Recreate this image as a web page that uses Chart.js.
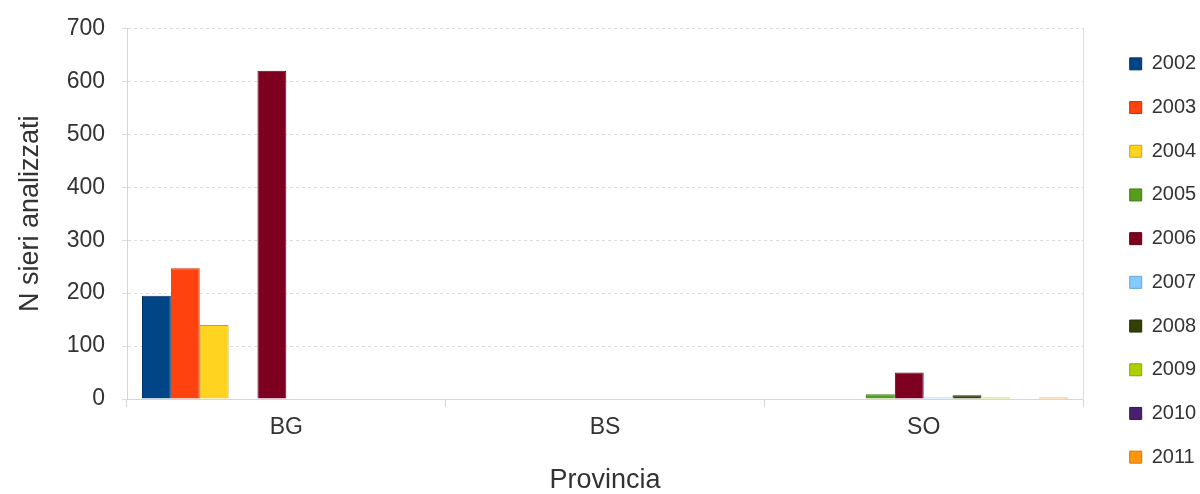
<!DOCTYPE html>
<html>
<head>
<meta charset="utf-8">
<script src="https://cdn.jsdelivr.net/npm/chart.js@4.4.1/dist/chart.umd.min.js"></script>
<style>
  html, body { margin: 0; padding: 0; background: #fff; }
  #wrap { width: 1200px; height: 494px; }
</style>
</head>
<body>
<div id="wrap"><canvas id="chart"></canvas></div>
<script>
// province categories
const province = ['BG', 'BS', 'SO'];
const years = ['2002', '2003', '2004', '2005', '2006', '2007', '2008', '2009', '2010', '2011'];

// N sieri per anno, one value per province
const v2002 = [195, 0, 0];
const v2003 = [247, 0, 0];
const v2004 = [140, 0, 0];
const v2005 = [1, 0, 9];
const v2006 = [620, 1, 50];
const v2007 = [0, 0, 3];
const v2008 = [1, 1, 7];
const v2009 = [0, 0, 3];
const v2010 = [0, 1, 0];
const v2011 = [0, 0, 3];

const yTicks = [0, 100, 200, 300, 400, 500, 600, 700];

const seriesValues = [v2002, v2003, v2004, v2005, v2006, v2007, v2008, v2009, v2010, v2011];
const fills = ['#004586', '#ff420e', '#ffd320', '#579d1c', '#7e0021', '#83caff', '#314004', '#aecf00', '#4b1f6f', '#ff950e'];
const edges = ['#003366', '#cc3300', '#c9a800', '#457a16', '#5c0018', '#6aa6d6', '#202b02', '#8aa500', '#351650', '#cc770b'];

const datasets = years.map((y, i) => ({
  label: y,
  data: seriesValues[i],
  backgroundColor: fills[i],
  borderColor: edges[i],
  borderWidth: 1,
  categoryPercentage: 0.906,
  barPercentage: 1.0,
}));

const font = 'Liberation Sans, Arial, Helvetica, sans-serif';

new Chart(document.getElementById('chart').getContext('2d'), {
  type: 'bar',
  data: { labels: province, datasets: datasets },
  options: {
    responsive: true,
    maintainAspectRatio: false,
    animation: false,
    layout: { padding: { top: 27, bottom: 0, left: 0, right: 0 } },
    plugins: {
      tooltip: { enabled: false },
      legend: {
        position: 'right',
        align: 'center',
        maxWidth: 94,
        labels: {
          boxWidth: 12,
          boxHeight: 12,
          padding: 23.7,
          color: '#333',
          font: { family: font, size: 20 },
        },
      },
    },
    scales: {
      x: {
        grid: { display: true, offset: true, drawOnChartArea: false, drawTicks: true, tickLength: 8, color: '#d6d6d6' },
        border: { display: true, color: '#d6d6d6' },
        ticks: { color: '#333', padding: 7, font: { family: font, size: 23 } },
        title: { display: true, text: 'Provincia', color: '#333', padding: { top: 0, bottom: 0 }, font: { family: font, size: 27, lineHeight: 1.0 } },
        afterFit: s => { s.height = 95; },
      },
      y: {
        min: 0,
        max: 700,
        afterBuildTicks: s => { s.ticks = yTicks.map(v => ({ value: v })); },
        grid: { color: '#dcdcdc', tickLength: 5, drawTicks: true },
        border: { display: true, color: '#d6d6d6', dash: [3, 3] },
        ticks: { color: '#333', padding: 17, font: { family: font, size: 23, lineHeight: 1.0 } },
        title: { display: true, text: 'N sieri analizzati', color: '#333', padding: { top: 14, bottom: 0 }, font: { family: font, size: 27 } },
        afterFit: s => { s.width = 127; },
      },
      pad: {
        type: 'linear',
        position: 'right',
        display: true,
        grid: { display: false, drawOnChartArea: false },
        ticks: { display: false },
        border: { display: true, color: '#dcdcdc', dash: [3, 3] },
        afterFit: s => { s.width = 23; },
      },
    },
  },
});
</script>
</body>
</html>
